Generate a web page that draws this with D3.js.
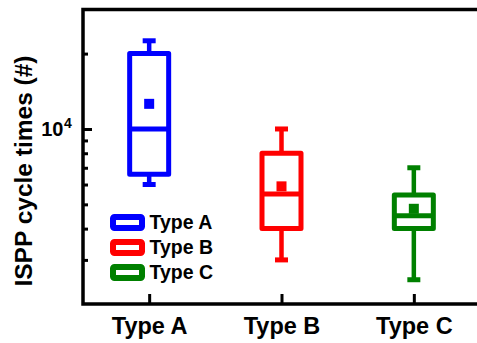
<!DOCTYPE html>
<html>
<head>
<meta charset="utf-8">
<script src="https://cdn.jsdelivr.net/npm/d3@7"></script>
<style>
  html, body { margin: 0; padding: 0; background: #fff; }
  svg { display: block; font-family: "Liberation Sans", Arial, sans-serif; }
</style>
</head>
<body>
<svg id="chart" width="477" height="343"></svg>
<script>
// Box statistics per memory type (ISPP cycle counts)
const categories  = ["Type A", "Type B", "Type C"];
const colors      = ["#0000ff", "#ff0000", "#008000"];
const whiskerLow  = [6000, 3000, 2500];
const q1          = [6600, 4000, 4000];
const median      = [10000, 5500, 4500];
const q3          = [20000, 8000, 5450];
const whiskerHigh = [22500, 10000, 7000];
const mean        = [12600, 5900, 4800];

// Axis ticks
const majorTicks = [10000];
const minorTicks = [3000, 4000, 5000, 6000, 7000, 8000, 9000, 20000];
const yDomain    = [2000, 30000];

const svg = d3.select("#chart");
const plotLeft = 83, plotTop = 9.5, plotBottom = 304, plotRight = 480;

const x = d3.scalePoint().domain(categories).range([plotLeft, plotRight]).padding(0.5);
const y = d3.scaleLog().domain(yDomain).range([plotBottom, plotTop]);

// Frame (open on the right edge, which runs past the canvas)
svg.append("rect")
  .attr("x", plotLeft).attr("y", plotTop)
  .attr("width", 420).attr("height", plotBottom - plotTop)
  .attr("fill", "none").attr("stroke", "#000").attr("stroke-width", 3.5);

// Y axis: major and minor inward ticks
const yMajor = svg.append("g").attr("transform", `translate(${plotLeft},0)`)
  .call(d3.axisLeft(y).tickValues(majorTicks).tickSize(-9).tickFormat(() => ""));
const yMinor = svg.append("g").attr("transform", `translate(${plotLeft},0)`)
  .call(d3.axisLeft(y).tickValues(minorTicks).tickSize(-5).tickFormat(() => ""));
[yMajor, yMinor].forEach(g => {
  g.select(".domain").remove();
  g.selectAll(".tick line").attr("stroke", "#000").attr("stroke-width", 3);
});

// Power-of-ten label
majorTicks.forEach(v => {
  const exp = Math.round(Math.log10(v));
  svg.append("text")
    .attr("x", 63.5).attr("y", y(v) + 7.5)
    .attr("text-anchor", "end")
    .attr("font-weight", "bold").attr("font-size", 20)
    .text("10");
  svg.append("text")
    .attr("x", 64).attr("y", y(v) - 1)
    .attr("font-weight", "bold").attr("font-size", 14)
    .text(exp);
});

// X axis: upward ticks with category labels
const xAxis = svg.append("g").attr("transform", `translate(0,${plotBottom})`)
  .call(d3.axisBottom(x).tickSize(-10).tickPadding(13.3));
xAxis.select(".domain").remove();
xAxis.selectAll(".tick line").attr("stroke", "#000").attr("stroke-width", 3);
xAxis.selectAll(".tick text")
  .attr("fill", "#000").attr("font-family", "Liberation Sans, Arial, sans-serif")
  .attr("font-weight", "bold").attr("font-size", 23.5);

// Y axis title
svg.append("text")
  .attr("transform", "translate(32,171) rotate(-90)")
  .attr("text-anchor", "middle")
  .attr("font-weight", "bold").attr("font-size", 24.5)
  .text("ISPP cycle times (#)");

// Boxes
const boxW = 39, capW = 13, sw = 5;
categories.forEach((c, i) => {
  const g = svg.append("g")
    .attr("stroke", colors[i]).attr("fill", "none")
    .attr("stroke-width", sw);
  const cx = x(c);
  // whiskers
  g.append("line").attr("x1", cx).attr("x2", cx)
    .attr("y1", y(q3[i])).attr("y2", y(whiskerHigh[i]))
    .attr("stroke-width", 4.5);
  g.append("line").attr("x1", cx).attr("x2", cx)
    .attr("y1", y(q1[i])).attr("y2", y(whiskerLow[i]))
    .attr("stroke-width", 4.5);
  // caps
  [whiskerHigh[i], whiskerLow[i]].forEach(v => {
    g.append("line")
      .attr("x1", cx - capW / 2).attr("x2", cx + capW / 2)
      .attr("y1", y(v)).attr("y2", y(v));
  });
  // box
  g.append("rect")
    .attr("x", cx - boxW / 2).attr("y", y(q3[i]))
    .attr("width", boxW).attr("height", y(q1[i]) - y(q3[i]))
    .attr("fill", "#fff").attr("stroke-linejoin", "round");
  // median
  g.append("line")
    .attr("x1", cx - boxW / 2).attr("x2", cx + boxW / 2)
    .attr("y1", y(median[i])).attr("y2", y(median[i]));
  // mean marker
  svg.append("rect")
    .attr("x", cx - 5).attr("y", y(mean[i]) - 5)
    .attr("width", 10).attr("height", 10)
    .attr("fill", colors[i]);
});

// Legend
const legend = svg.append("g");
categories.forEach((c, i) => {
  const cy = 222.5 + i * 25;
  legend.append("rect")
    .attr("x", 113).attr("y", cy - 5.5)
    .attr("width", 29).attr("height", 11)
    .attr("rx", 1.5)
    .attr("fill", "#fff").attr("stroke", colors[i])
    .attr("stroke-width", 6).attr("stroke-linejoin", "round");
  legend.append("text")
    .attr("x", 149.5).attr("y", cy + 6)
    .attr("font-weight", "bold").attr("font-size", 19.5)
    .text(c);
});
</script>
</body>
</html>
